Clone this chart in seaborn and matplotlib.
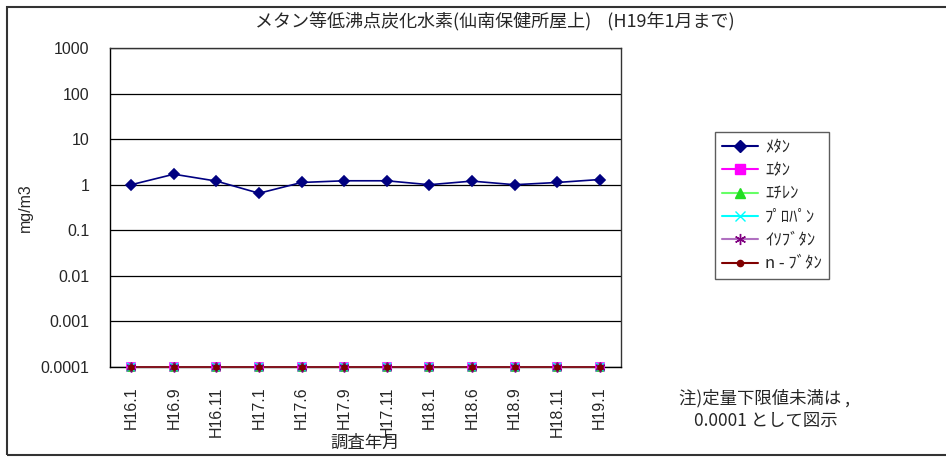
import numpy as np
import pandas as pd
import matplotlib
matplotlib.use('Agg')
import matplotlib.pyplot as plt
import seaborn as sns
from matplotlib.patches import Rectangle
from matplotlib.lines import Line2D
from matplotlib.ticker import FixedLocator, NullLocator

# data
months = ['H16.1', 'H16.9', 'H16.11', 'H17.1', 'H17.6', 'H17.9',
          'H17.11', 'H18.1', 'H18.6', 'H18.9', 'H18.11', 'H19.1']
methane = [1.0, 1.7, 1.2, 0.65, 1.12, 1.22, 1.22, 1.0, 1.2, 1.0, 1.12, 1.3]
ethane = [0.0001] * 12
ethylene = [0.0001] * 12
propane = [0.0001] * 12
isobutane = [0.0001] * 12
nbutane = [0.0001] * 12

series_names = ['ﾒﾀﾝ', 'ｴﾀﾝ', 'ｴﾁﾚﾝ', 'ﾌﾟﾛﾊﾟﾝ', 'ｲｿﾌﾞﾀﾝ', 'n - ﾌﾞﾀﾝ']
series_vals = [methane, ethane, ethylene, propane, isobutane, nbutane]

colors = ['#000080', '#FF00FF', '#22DD22', '#00FFFF', '#800080', '#800000']
line_colors = ['#000080', '#FF00FF', '#66FF66', '#00FFFF', '#B070C0', '#800000']
markers = ['D', 's', '^', 'x', (6, 2, 0), 'o']
msizes = [5, 5.5, 6, 6, 7, 3.5]

rows = []
for name, vals in zip(series_names, series_vals):
    for i, (m, v) in enumerate(zip(months, vals)):
        rows.append({'month': m, 'pos': i, 'series': name, 'value': v})
df = pd.DataFrame(rows)

sns.set_style('white')
plt.rcParams['font.family'] = ['Liberation Sans', 'Noto Sans CJK JP', 'DejaVu Sans']
jp = ['Noto Sans CJK JP', 'DejaVu Sans']

fig = plt.figure(figsize=(9.46, 4.57), dpi=100)
ax = fig.add_axes([110 / 946, 1 - 367 / 457, 511 / 946, 319 / 457])

# outer chart border
fig.patches.append(Rectangle((7 / 946, 1 - 455 / 457), 1.2, 448 / 457,
                             transform=fig.transFigure, fill=False,
                             edgecolor='#333333', linewidth=1.5, zorder=0))

# later series sit on top, methane drawn last
draw_order = [1, 2, 3, 4, 5, 0]
for z, k in enumerate(draw_order):
    name = series_names[k]
    sub = df[df['series'] == name]
    sns.lineplot(data=sub, x='pos', y='value', ax=ax, color=line_colors[k],
                 linewidth=1.2, legend=False, zorder=3 + z, clip_on=False)
    ax.plot(sub['pos'], sub['value'], linestyle='none', marker=markers[k],
            markersize=msizes[k], color=colors[k], markeredgecolor=colors[k],
            markeredgewidth=1.2, zorder=10 + z, clip_on=False)

ax.set_yscale('log')
ax.set_ylim(0.0001, 1000)
ax.set_xlim(-0.5, 11.5)
yt = [0.0001, 0.001, 0.01, 0.1, 1, 10, 100, 1000]
ax.yaxis.set_major_locator(FixedLocator(yt))
ax.yaxis.set_minor_locator(NullLocator())
ax.set_yticklabels(['0.0001', '0.001', '0.01', '0.1', '1', '10', '100', '1000'], fontsize=11.5)
ax.grid(axis='y', color='black', linewidth=0.9)
ax.grid(axis='x', visible=False)

ax.set_xticks(range(12))
ax.set_xticklabels(months, rotation=90, fontsize=11.5)
ax.tick_params(axis='x', length=0, pad=14)
ax.set_xticks(np.arange(-0.5, 12, 1), minor=True)
ax.tick_params(axis='x', which='minor', length=5, direction='in', width=0.9)
ax.tick_params(axis='y', length=5, direction='out', width=0.9, pad=10)

for s in ax.spines.values():
    s.set_color('#333333')
    s.set_linewidth(1.0)
ax.spines['left'].set_color('black')
ax.spines['bottom'].set_color('black')

ax.set_xlabel('調査年月', fontsize=12.5, family=jp)
ax.xaxis.set_label_coords(0.5, -(434 - 367) / 319)
ax.set_ylabel('mg/m3', fontsize=11.5)
ax.yaxis.set_label_coords(-(110 - 33) / 511, 0.5)

fig.text(495 / 946, 1 - 22 / 457, 'メタン等低沸点炭化水素(仙南保健所屋上)    (H19年1月まで)',
         ha='center', va='center', fontsize=13, family=jp)

legend_handles = []
for k in range(len(series_names)):
    legend_handles.append(Line2D([0], [0], color=line_colors[k], linewidth=1.5,
                                 marker=markers[k], markersize=msizes[k] + 1,
                                 markerfacecolor=colors[k], markeredgecolor=colors[k]))
leg = fig.legend(legend_handles, series_names, loc='upper left',
                 bbox_to_anchor=(715 / 946, 1 - 132 / 457),
                 prop={'family': jp, 'size': 12}, frameon=True, fancybox=False,
                 edgecolor='#333333', handlelength=2.2, labelspacing=0.38,
                 borderpad=0.4, handletextpad=0.4, borderaxespad=0)
leg.get_frame().set_linewidth(1.0)

fig.text(764 / 946, 1 - 398 / 457, '注)定量下限値未満は ,', ha='center', va='center',
         fontsize=12.5, family=jp)
fig.text(766 / 946, 1 - 421 / 457, '0.0001 として図示', ha='center', va='center',
         fontsize=12.5, family=jp)

fig.savefig('out.png', dpi=100)
